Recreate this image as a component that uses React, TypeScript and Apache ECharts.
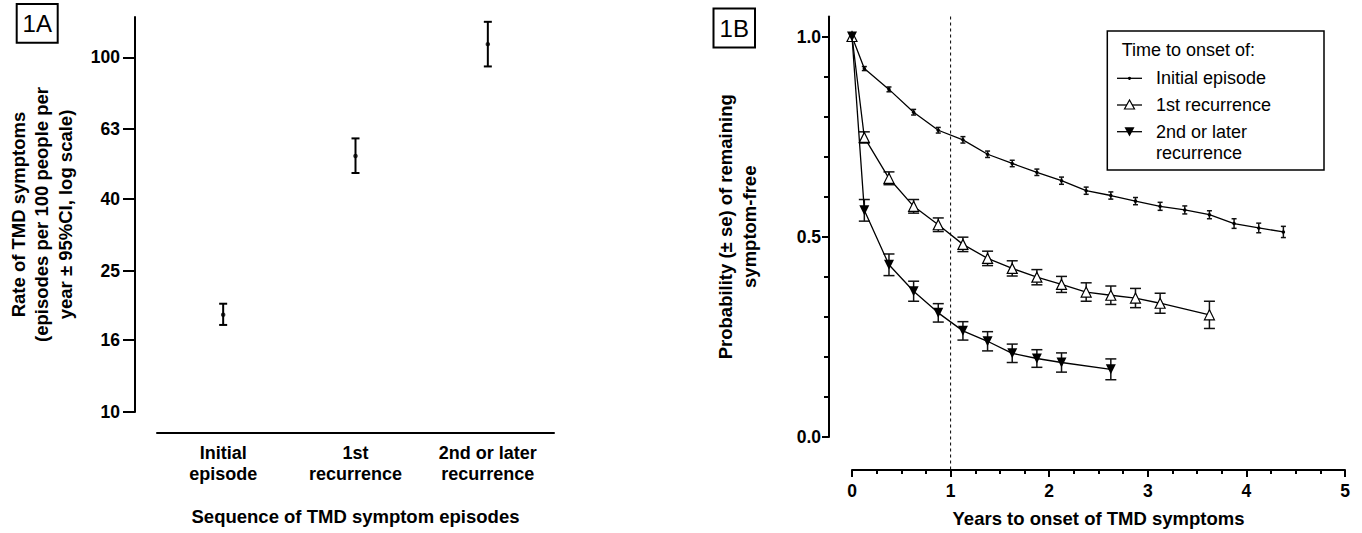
import React, { useEffect, useRef } from 'react';
import * as echarts from 'echarts';

const FONT = "'Liberation Sans', Arial, Helvetica, sans-serif";

// ---- Panel 1A: rate of TMD symptoms (log scale) ----
const rateCategories = ['Initial\nepisode', '1st\nrecurrence', '2nd or later\nrecurrence'];
const rateEstimates = [18.8, 52.7, 109];
const rateLower = [17.6, 47.2, 94.3];
const rateUpper = [20.2, 59.1, 126];
const rateTickLabels = [10, 16, 25, 40, 63, 100];
const rateAxisMin = 10;
const rateAxisMax = 130;

// ---- Panel 1B: probability of remaining symptom-free ----
const initialTimes = [0, 0.125, 0.375, 0.625, 0.875, 1.125, 1.375, 1.625, 1.875, 2.125, 2.375, 2.625, 2.875, 3.125, 3.375, 3.625, 3.875, 4.125, 4.375];
const initialProb = [1.0, 0.92, 0.868, 0.811, 0.766, 0.742, 0.706, 0.683, 0.661, 0.64, 0.615, 0.603, 0.589, 0.576, 0.567, 0.555, 0.533, 0.522, 0.512];
const initialSe = [0, 0.005, 0.006, 0.007, 0.007, 0.008, 0.008, 0.008, 0.008, 0.009, 0.009, 0.009, 0.009, 0.01, 0.01, 0.01, 0.012, 0.012, 0.014];

const firstTimes = [0, 0.125, 0.375, 0.625, 0.875, 1.125, 1.375, 1.625, 1.875, 2.125, 2.375, 2.625, 2.875, 3.125, 3.625];
const firstProb = [1.0, 0.748, 0.646, 0.576, 0.53, 0.481, 0.446, 0.421, 0.399, 0.381, 0.362, 0.354, 0.347, 0.334, 0.305];
const firstSe = [0, 0.014, 0.016, 0.017, 0.017, 0.018, 0.018, 0.019, 0.019, 0.02, 0.023, 0.023, 0.024, 0.025, 0.034];

const laterTimes = [0, 0.125, 0.375, 0.625, 0.875, 1.125, 1.375, 1.625, 1.875, 2.125, 2.625];
const laterProb = [1.0, 0.566, 0.43, 0.364, 0.31, 0.265, 0.239, 0.209, 0.196, 0.186, 0.169];
const laterSe = [0, 0.027, 0.027, 0.025, 0.023, 0.023, 0.024, 0.023, 0.022, 0.024, 0.026];

const probTickLabels = [0, 0.5, 1.0];
const cutoffYear = [1];

const seriesNames = ['Initial episode', '1st recurrence', '2nd or later recurrence'];

function zip(a: number[], b: number[], c?: number[]) {
  return a.map((v, i) => (c ? [v, b[i], c[i]] : [v, b[i]]));
}

function errBarRenderer(capHalf: number, width: number) {
  return (params: any, api: any) => {
    const x = api.value(0);
    const y = api.value(1);
    const e = api.value(2);
    if (!e) return null;
    const hi = api.coord([x, y + e]);
    const lo = api.coord([x, y - e]);
    const style = { stroke: '#111', lineWidth: width };
    return {
      type: 'group',
      children: [
        { type: 'line', shape: { x1: hi[0], y1: hi[1], x2: lo[0], y2: lo[1] }, style },
        { type: 'line', shape: { x1: hi[0] - capHalf, y1: hi[1], x2: hi[0] + capHalf, y2: hi[1] }, style },
        { type: 'line', shape: { x1: lo[0] - capHalf, y1: lo[1], x2: lo[0] + capHalf, y2: lo[1] }, style },
      ],
    };
  };
}

export default function App() {
  const ref = useRef<HTMLDivElement>(null);

  useEffect(() => {
    document.body.style.margin = '0';
    const chart = echarts.init(ref.current!, null, { renderer: 'svg' });

    const boldAxisText = { fontFamily: FONT, fontWeight: 'bold' as const, color: '#000' };
    const blackLine = { color: '#000', width: 2 };

    const logTickPos = rateTickLabels.map((v) => Math.log10(v));

    const option: any = {
      animation: false,
      backgroundColor: '#fff',
      textStyle: { fontFamily: FONT },
      grid: [
        { left: 157, top: 17, width: 397, height: 395 },
        { left: 852, top: 16.5, width: 493, height: 423 },
      ],
      xAxis: [
        {
          type: 'category',
          gridIndex: 0,
          position: 'bottom',
          data: rateCategories,
          offset: 21,
          axisLine: { onZero: false, lineStyle: blackLine },
          axisTick: { alignWithLabel: true, length: 8, lineStyle: blackLine },
          axisLabel: { ...boldAxisText, fontSize: 18, lineHeight: 21.5, margin: 9, interval: 0 },
          splitLine: { show: false },
          name: 'Sequence of TMD symptom episodes',
          nameLocation: 'middle',
          nameGap: 74,
          nameTextStyle: { ...boldAxisText, fontSize: 18.5 },
        },
        {
          type: 'value',
          gridIndex: 1,
          position: 'bottom',
          min: 0,
          max: 5,
          interval: 1,
          offset: 33,
          axisLine: { onZero: false, lineStyle: blackLine },
          axisTick: { length: 7, lineStyle: blackLine },
          minorTick: { show: true, splitNumber: 4, length: 4, lineStyle: { color: '#000', width: 2 } },
          axisLabel: { ...boldAxisText, fontSize: 17.5, margin: 12 },
          splitLine: { show: false },
          name: 'Years to onset of TMD symptoms',
          nameLocation: 'middle',
          nameGap: 39,
          nameTextStyle: { ...boldAxisText, fontSize: 18.5 },
        },
      ],
      yAxis: [
        {
          type: 'log',
          logBase: 10,
          gridIndex: 0,
          position: 'left',
          min: rateAxisMin,
          max: rateAxisMax,
          show: false,
          splitLine: { show: false },
        },
        {
          type: 'value',
          gridIndex: 0,
          position: 'left',
          min: Math.log10(rateAxisMin),
          max: Math.log10(rateAxisMax),
          offset: 22,
          axisLine: { show: true, onZero: false, lineStyle: blackLine },
          axisTick: { show: true, length: 12, lineStyle: blackLine, customValues: logTickPos },
          axisLabel: {
            ...boldAxisText,
            fontSize: 17.5,
            margin: 15,
            customValues: logTickPos,
            formatter: (v: number) => String(Math.round(Math.pow(10, v))),
          },
          splitLine: { show: false },
          name: 'Rate of TMD symptoms\n(episodes per 100 people per\nyear ± 95%CI, log scale)',
          nameLocation: 'middle',
          nameGap: 58,
          nameTextStyle: { ...boldAxisText, fontSize: 18.5, lineHeight: 23.5, align: 'center' },
        },
        {
          type: 'value',
          gridIndex: 1,
          position: 'left',
          min: 0,
          max: 1.05,
          interval: 0.5,
          offset: 23,
          axisLine: { show: true, onZero: false, lineStyle: blackLine },
          axisTick: { show: true, length: 7, lineStyle: blackLine, customValues: probTickLabels },
          minorTick: { show: true, splitNumber: 5, length: 5, lineStyle: { color: '#000', width: 2 } },
          axisLabel: {
            ...boldAxisText,
            fontSize: 17.5,
            margin: 8,
            customValues: probTickLabels,
            formatter: (v: number) => v.toFixed(1),
          },
          splitLine: { show: false },
          name: 'Probability (± se) of remaining\nsymptom-free',
          nameLocation: 'middle',
          nameGap: 68,
          nameTextStyle: { ...boldAxisText, fontSize: 18.5, lineHeight: 24, align: 'center' },
        },
      ],
      series: [
        // Panel 1A error bars
        {
          type: 'custom',
          xAxisIndex: 0,
          yAxisIndex: 0,
          clip: false,
          z: 2,
          encode: { x: 0, y: [1, 2] },
          data: rateCategories.map((c, i) => [i, rateLower[i], rateUpper[i]]),
          renderItem: (params: any, api: any) => {
            const i = api.value(0);
            const lo = api.coord([i, api.value(1)]);
            const hi = api.coord([i, api.value(2)]);
            const style = { stroke: '#000', lineWidth: 2 };
            const cap = 4;
            return {
              type: 'group',
              children: [
                { type: 'line', shape: { x1: hi[0], y1: hi[1], x2: lo[0], y2: lo[1] }, style },
                { type: 'line', shape: { x1: hi[0] - cap, y1: hi[1], x2: hi[0] + cap, y2: hi[1] }, style },
                { type: 'line', shape: { x1: lo[0] - cap, y1: lo[1], x2: lo[0] + cap, y2: lo[1] }, style },
              ],
            };
          },
        },
        {
          type: 'scatter',
          xAxisIndex: 0,
          yAxisIndex: 0,
          symbol: 'circle',
          symbolSize: 4.5,
          itemStyle: { color: '#000' },
          z: 3,
          data: rateCategories.map((c, i) => [i, rateEstimates[i]]),
        },
        // Panel 1B: dashed 1-year cutoff
        {
          type: 'custom',
          xAxisIndex: 1,
          yAxisIndex: 2,
          clip: false,
          z: 1,
          data: cutoffYear.map((v) => [v]),
          encode: { x: 0 },
          renderItem: (params: any, api: any) => {
            const x = api.value(0);
            const top = api.coord([x, 1.05]);
            const bot = api.coord([x, 0]);
            return {
              type: 'line',
              shape: { x1: top[0], y1: top[1], x2: top[0], y2: bot[1] + 33 },
              style: { stroke: '#000', lineWidth: 1, lineDash: [3, 3] },
            };
          },
        },
        // error bars
        {
          type: 'custom',
          xAxisIndex: 1,
          yAxisIndex: 2,
          clip: false,
          z: 2,
          encode: { x: 0, y: 1 },
          data: zip(initialTimes, initialProb, initialSe),
          renderItem: errBarRenderer(2.5, 1.5),
        },
        {
          type: 'custom',
          xAxisIndex: 1,
          yAxisIndex: 2,
          clip: false,
          z: 2,
          encode: { x: 0, y: 1 },
          data: zip(firstTimes, firstProb, firstSe),
          renderItem: errBarRenderer(5.5, 1.5),
        },
        {
          type: 'custom',
          xAxisIndex: 1,
          yAxisIndex: 2,
          clip: false,
          z: 2,
          encode: { x: 0, y: 1 },
          data: zip(laterTimes, laterProb, laterSe),
          renderItem: errBarRenderer(5.5, 1.5),
        },
        {
          name: seriesNames[0],
          type: 'line',
          xAxisIndex: 1,
          yAxisIndex: 2,
          z: 3,
          symbol: 'circle',
          symbolSize: 3.5,
          lineStyle: { color: '#000', width: 1.3 },
          itemStyle: { color: '#000' },
          data: zip(initialTimes, initialProb),
        },
        {
          name: seriesNames[1],
          type: 'line',
          xAxisIndex: 1,
          yAxisIndex: 2,
          z: 4,
          symbol: 'triangle',
          symbolSize: 10,
          lineStyle: { color: '#000', width: 1.3 },
          itemStyle: { color: '#fff', borderColor: '#000', borderWidth: 1.2 },
          data: zip(firstTimes, firstProb),
        },
        {
          name: seriesNames[2],
          type: 'line',
          xAxisIndex: 1,
          yAxisIndex: 2,
          z: 5,
          symbol: 'triangle',
          symbolRotate: 180,
          symbolSize: 10,
          lineStyle: { color: '#000', width: 1.3 },
          itemStyle: { color: '#000' },
          data: zip(laterTimes, laterProb),
        },
      ],
      graphic: [
        // panel labels
        { type: 'rect', shape: { x: 16.7, y: 4, width: 41, height: 38.7 }, style: { fill: '#fff', stroke: '#000', lineWidth: 2 } },
        { type: 'text', x: 37.2, y: 23.5, style: { text: '1A', font: `24px ${FONT}`, fill: '#000', align: 'center', verticalAlign: 'middle' } },
        { type: 'rect', shape: { x: 713.5, y: 8.5, width: 41.5, height: 39 }, style: { fill: '#fff', stroke: '#000', lineWidth: 2 } },
        { type: 'text', x: 734.2, y: 28.2, style: { text: '1B', font: `24px ${FONT}`, fill: '#000', align: 'center', verticalAlign: 'middle' } },
        // legend
        {
          type: 'group',
          z: 100,
          children: [
            { type: 'rect', shape: { x: 1107.3, y: 31, width: 216.7, height: 139 }, style: { fill: '#fff', stroke: '#000', lineWidth: 1.5 } },
            { type: 'text', x: 1121.7, y: 50, style: { text: 'Time to onset of:', font: `18px ${FONT}`, fill: '#000', verticalAlign: 'middle' } },
            { type: 'line', shape: { x1: 1117, y1: 78.3, x2: 1142, y2: 78.3 }, style: { stroke: '#000', lineWidth: 1.3 } },
            { type: 'circle', shape: { cx: 1129.5, cy: 78.3, r: 1.6 }, style: { fill: '#000' } },
            { type: 'text', x: 1156, y: 78.3, style: { text: seriesNames[0], font: `18px ${FONT}`, fill: '#000', verticalAlign: 'middle' } },
            { type: 'line', shape: { x1: 1117, y1: 105, x2: 1142, y2: 105 }, style: { stroke: '#000', lineWidth: 1.3 } },
            { type: 'polygon', shape: { points: [[1129.5, 100], [1124.5, 109], [1134.5, 109]] }, style: { fill: '#fff', stroke: '#000', lineWidth: 1.2 } },
            { type: 'text', x: 1156, y: 105, style: { text: seriesNames[1], font: `18px ${FONT}`, fill: '#000', verticalAlign: 'middle' } },
            { type: 'line', shape: { x1: 1117, y1: 131.7, x2: 1142, y2: 131.7 }, style: { stroke: '#000', lineWidth: 1.3 } },
            { type: 'polygon', shape: { points: [[1124.5, 127.2], [1134.5, 127.2], [1129.5, 136.5]] }, style: { fill: '#000' } },
            { type: 'text', x: 1156, y: 120.9, style: { text: '2nd or later\nrecurrence', font: `18px ${FONT}`, lineHeight: 21.6, fill: '#000', verticalAlign: 'top' } },
          ],
        },
      ],
    };

    chart.setOption(option);
    return () => chart.dispose();
  }, []);

  return <div ref={ref} style={{ width: 1362, height: 533 }} />;
}
